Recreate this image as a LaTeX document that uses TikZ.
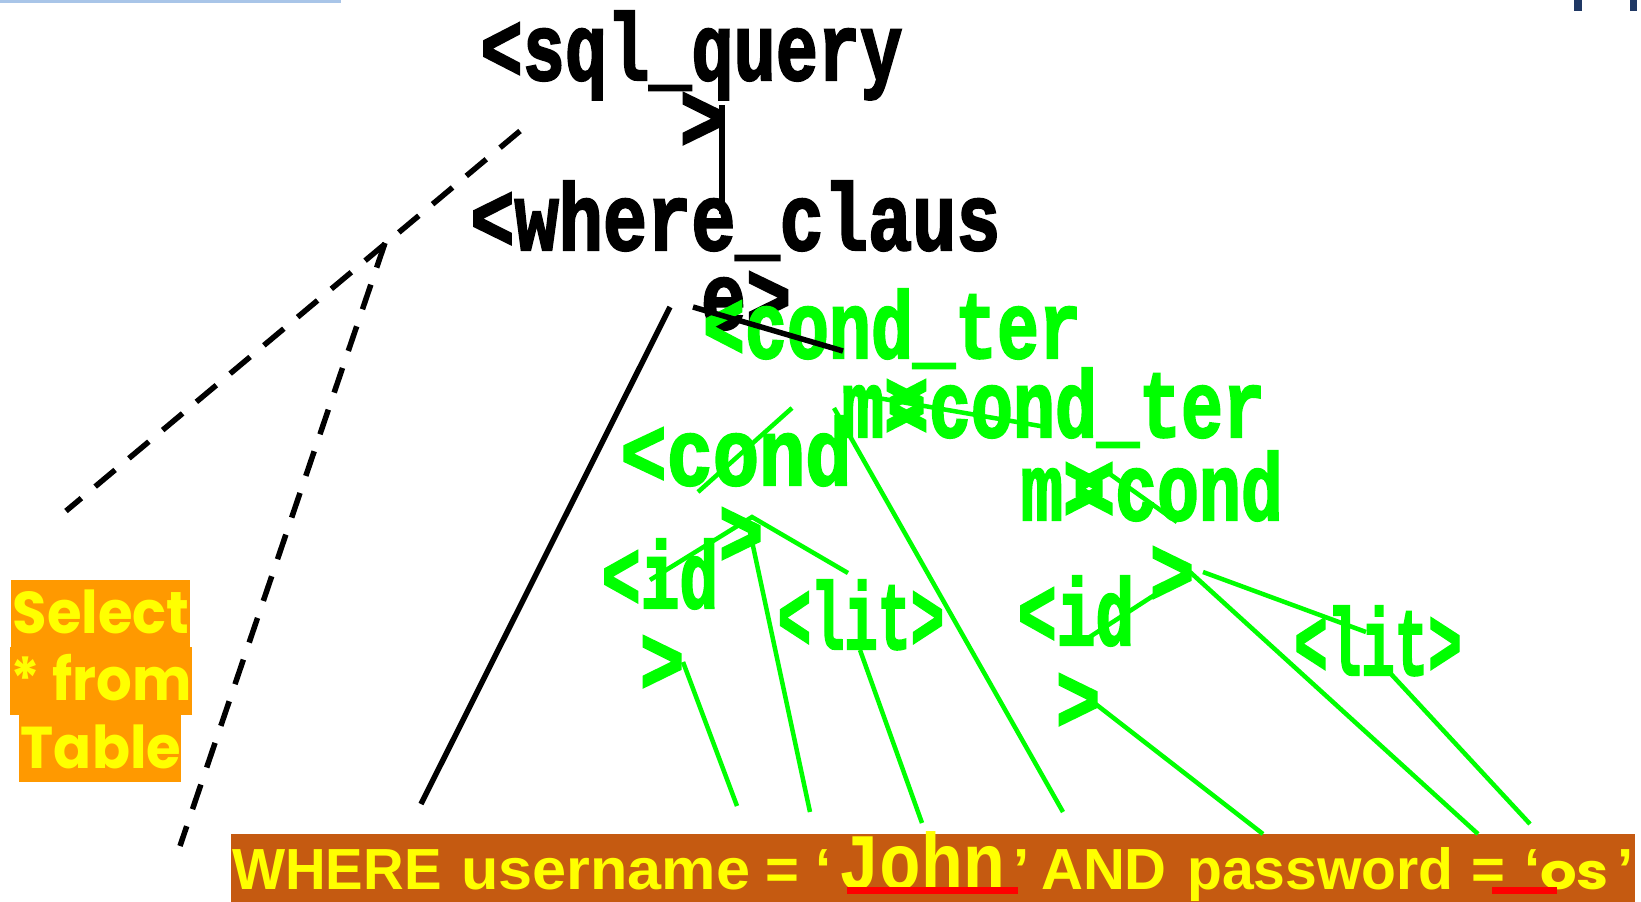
\documentclass[tikz,border=0pt]{standalone}
\usepackage{fontspec}
\newfontfamily\twfont{Liberation Mono Bold}[FakeBold=2.5]
\newfontfamily\namefont{Liberation Mono Bold}
\newfontfamily\arfont{Liberation Sans Bold}
\newfontfamily\popfont{Poppins Bold}
\definecolor{termgreen}{HTML}{00FF00}
\definecolor{hlyellow}{HTML}{FFFF00}
\definecolor{boxorange}{HTML}{FF9900}
\definecolor{barbrown}{HTML}{C55A11}
\definecolor{squiggle}{HTML}{FF0000}
\definecolor{paleblue}{HTML}{A9C5E8}
\definecolor{navymark}{HTML}{1F3864}
\tikzset{
  termtext/.style={font=\twfont\fontsize{95}{95}\selectfont, inner sep=0pt, anchor=base},
  blackterm/.style={termtext, text=black},
  greenterm/.style={termtext, text=termgreen},
  selecttext/.style={font=\popfont\fontsize{59}{59}\selectfont, text=hlyellow,
                     inner sep=0pt, anchor=base, xscale=0.95},
  querytext/.style={font=\arfont\fontsize{58}{58}\selectfont, text=hlyellow,
                    inner sep=0pt, anchor=base west},
  blackline/.style={line width=5.5pt, black},
  greenline/.style={line width=4.5pt, termgreen},
  dashline/.style={line width=5.5pt, black, dash pattern=on 26pt off 18pt},
}
\begin{document}
\begin{tikzpicture}[x=1pt, y=-1pt]
\useasboundingbox (0,0) rectangle (1641,902);
\fill[white] (0,0) rectangle (1641,902);

% slide edge marks
\fill[paleblue] (0,0) rectangle (341,3);
\fill[navymark] (1574,0) rectangle (1582,11);
\fill[navymark] (1630,0) rectangle (1637,11);

% parse tree labels (black)
\node[blackterm, xscale=0.74] (sqlA) at (691.5,80) {<sql\_query};
\node[blackterm, xscale=0.78] (sqlB) at (702,150) {>};
\node[blackterm, xscale=0.775] (whereA) at (735.5,250) {<where\_claus};
\node[blackterm, xscale=0.79] (whereB) at (746,329) {e>};

% parse tree labels (green)
\node[greenterm, xscale=0.737] (ctA) at (892,358) {<cond\_ter};
\node[greenterm, xscale=0.74] (ctB) at (884,437) {m>};
\node[greenterm, xscale=0.737] (ctC) at (1076,437) {<cond\_ter};
\node[greenterm, xscale=0.81] (condLA) at (736,485) {<cond};
\node[greenterm, xscale=0.78] (condLB) at (741,565) {>};
\node[greenterm, xscale=0.74] (ctD) at (1063,520) {m>};
\node[greenterm, xscale=0.736] (condRA) at (1178,520) {<cond};
\node[greenterm, xscale=0.78] (condRB) at (1172,604) {>};
\node[greenterm, xscale=0.68] (idLA) at (660,608) {<id};
\node[greenterm, xscale=0.78] (idLB) at (662,693) {>};
\node[greenterm, xscale=0.584] (litL) at (861,649) {<lit>};
\node[greenterm, xscale=0.68] (idRA) at (1076,645) {<id};
\node[greenterm, xscale=0.78] (idRB) at (1078,731) {>};
\node[greenterm, xscale=0.588] (litR) at (1378,675) {<lit>};

% side note box
\fill[boxorange] (11,580) rectangle (190,647);
\fill[boxorange] (10,647) rectangle (192,715);
\fill[boxorange] (19,715) rectangle (181,782);
\node[selecttext] (selA) at (101,633) {Select};
\node[selecttext] (selB) at (101,700) {* from};
\node[selecttext] (selC) at (101,768) {Table};

% query bar
\fill[barbrown] (231,834) rectangle (1635,902);
\node[querytext, xscale=0.97] (qWhere) at (232,889) {WHERE};
\node[querytext, xscale=1.055] (qUser) at (461,889) {username};
\node[querytext] (qEqA) at (765,889) {=};
\node[querytext] (qOpenA) at (815,889) {‘};
\node[querytext, font=\namefont\fontsize{80}{80}\selectfont, xscale=0.87] (qJohn) at (838,889) {John};
\node[querytext] (qCloseA) at (1013,889) {’};
\node[querytext] (qAnd) at (1041,889) {AND};
\node[querytext, xscale=0.985] (qPass) at (1187,889) {password};
\node[querytext] (qEqB) at (1471,889) {=};
\node[querytext] (qOpenB) at (1524,889) {‘};
\node[querytext, font=\popfont\fontsize{50}{50}\selectfont, xscale=1.15] (qOs) at (1540,889) {os};
\node[querytext] (qCloseB) at (1617,889) {’};
\fill[squiggle] (847,887) rectangle (1018,894);
\fill[squiggle] (1492,887) rectangle (1557,894);

% connector end points
\coordinate (v1) at (722,105);   \coordinate (v2) at (722,214);
\coordinate (e1) at (693,307);   \coordinate (e2) at (843,351);
\coordinate (w1) at (670,307);   \coordinate (w2) at (421,804);
\coordinate (d1) at (520,131);   \coordinate (d2) at (66,511);
\coordinate (d3) at (385,243);   \coordinate (d4) at (180,846);
\coordinate (apex) at (752,517);
\coordinate (g1) at (650,580);   \coordinate (g2) at (848,573);
\coordinate (g3) at (750,532);   \coordinate (g4) at (810,812);
\coordinate (g5) at (683,662);   \coordinate (g6) at (737,806);
\coordinate (g7) at (860,650);   \coordinate (g8) at (922,823);
\coordinate (g9) at (834,408);   \coordinate (g10) at (1063,812);
\coordinate (g11) at (792,408);  \coordinate (g12) at (698,492);
\coordinate (g13) at (849,393);  \coordinate (g14) at (1046,427);
\coordinate (g15) at (1107,472); \coordinate (g16) at (1177,522);
\coordinate (rapex) at (1190,572);
\coordinate (g17) at (1478,834);
\coordinate (g18) at (1203,572); \coordinate (g19) at (1366,632);
\coordinate (g20) at (1085,640);
\coordinate (g21) at (1093,702); \coordinate (g22) at (1263,834);
\coordinate (g23) at (1391,674); \coordinate (g24) at (1530,824);

% green connectors
\draw[greenline] (g1) -- (apex) -- (g2);
\draw[greenline] (g3) -- (g4);
\draw[greenline] (g5) -- (g6);
\draw[greenline] (g7) -- (g8);
\draw[greenline] (g9) -- (g10);
\draw[greenline] (g11) -- (g12);
\draw[greenline] (g13) -- (g14);
\draw[greenline] (g15) -- (g16);
\draw[greenline] (rapex) -- (g17);
\draw[greenline] (g18) -- (g19);
\draw[greenline] (g20) -- (rapex);
\draw[greenline] (g21) -- (g22);
\draw[greenline] (g23) -- (g24);

% black connectors
\draw[blackline] (v1) -- (v2);
\draw[blackline] (e1) -- (e2);
\draw[blackline] (w1) -- (w2);
\draw[dashline] (d1) -- (d2);
\draw[dashline] (d3) -- (d4);
\end{tikzpicture}
\end{document}
